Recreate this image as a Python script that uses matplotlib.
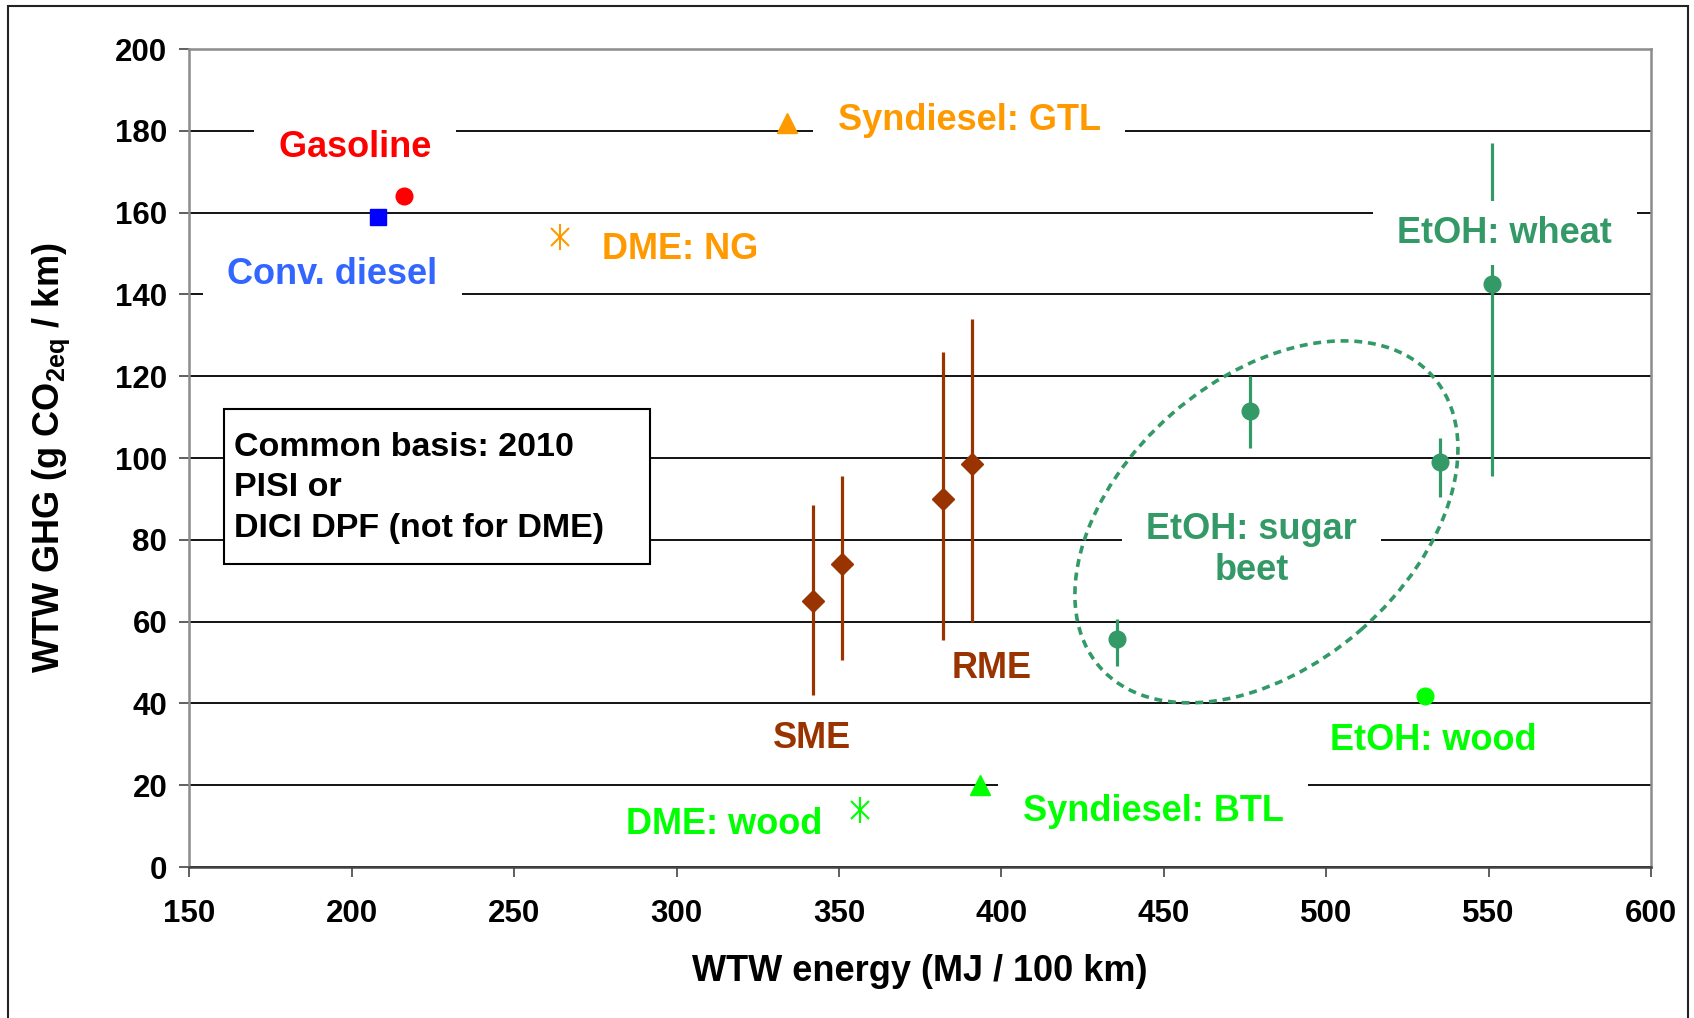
import matplotlib.pyplot as plt
from matplotlib.patches import Ellipse, Rectangle
from matplotlib.transforms import ScaledTranslation

plt.rcParams['font.family'] = ['Liberation Sans', 'DejaVu Sans']
plt.rcParams['font.weight'] = 'bold'
plt.rcParams['axes.labelweight'] = 'bold'
plt.rcParams['mathtext.fontset'] = 'custom'
plt.rcParams['mathtext.rm'] = 'Liberation Sans:bold'
plt.rcParams['mathtext.bf'] = 'Liberation Sans:bold'

# single points (energy MJ/100km, GHG g/km)
gasoline = (216, 164)
conv_diesel = (208, 159)
dme_ng = (264, 154)
gtl = (334, 182)
etoh_wood = (530.5, 41.7)
btl = (393.5, 20)
dme_wood = (356.5, 14)

# points with ranges
sme_x = [342, 351]
sme_y = [65, 74]
sme_lo = [42, 50.6]
sme_hi = [88.5, 95.7]

rme_x = [382, 391]
rme_y = [90, 98.5]
rme_lo = [55.5, 60]
rme_hi = [126, 134]

beet_x = [435.5, 476.5, 535]
beet_y = [55.7, 111.5, 99]
beet_lo = [49.2, 102.4, 90.5]
beet_hi = [60.6, 120, 104.9]

wheat_x = [551]
wheat_y = [142.5]
wheat_lo = [95.7]
wheat_hi = [177]

brown = '#993300'
sea = '#339966'
lime = '#00FF00'
orange = '#FF9900'

fig = plt.figure(figsize=(16.94, 10.18), dpi=100)
ax = fig.add_axes([0.1118, 0.1483, 0.8628, 0.8035])

ax.set_xlim(150, 600)
ax.set_ylim(0, 200)
ax.set_xticks(range(150, 601, 50))
ax.set_yticks(range(0, 201, 20))
ax.grid(axis='y', color='black', linewidth=1.3, zorder=0)
ax.set_axisbelow(True)
for s in ['top', 'right', 'left']:
    ax.spines[s].set_color('#8c8c8c')
    ax.spines[s].set_linewidth(1.8)
ax.spines['bottom'].set_color('#444444')
ax.spines['bottom'].set_linewidth(1.8)
ax.tick_params(axis='both', direction='out', length=7, width=1.2, color='#444444', labelsize=22.5)
ax.tick_params(axis='x', pad=16)
ax.tick_params(axis='y', pad=9)

ax.set_xlabel('WTW energy (MJ / 100 km)', fontsize=26, fontweight='bold', labelpad=18)
ax.set_ylabel(r'WTW GHG (g CO$_\mathregular{2eq}$ / km)', fontsize=26, fontweight='bold', labelpad=31)


def bars(x, y, lo, hi, color, marker, ms):
    yerr = [[b - a for a, b in zip(lo, y)], [b - a for a, b in zip(y, hi)]]
    ax.errorbar(x, y, yerr=yerr, fmt='none', ecolor=color, elinewidth=2.3, capsize=0, zorder=2)
    ax.plot(x, y, linestyle='none', marker=marker, color=color, markersize=ms, zorder=5)


bars(sme_x, sme_y, sme_lo, sme_hi, brown, 'D', 11)
bars(rme_x, rme_y, rme_lo, rme_hi, brown, 'D', 11)
bars(beet_x, beet_y, beet_lo, beet_hi, sea, 'o', 12)
bars(wheat_x, wheat_y, wheat_lo, wheat_hi, sea, 'o', 12)

ax.plot(*gasoline, 'o', color='#FF0000', markersize=12, zorder=5)
ax.plot(*conv_diesel, 's', color='#0000FF', markersize=12, zorder=5)
ax.plot(*gtl, '^', color=orange, markersize=15, zorder=5)
ax.plot(*etoh_wood, 'o', color=lime, markersize=12, zorder=5)
ax.plot(*btl, '^', color=lime, markersize=15, zorder=5)
for pt, c in [(dme_ng, orange), (dme_wood, lime)]:
    ax.plot(*pt, 'x', color=c, markersize=13, markeredgewidth=1.5, zorder=5)
    ax.plot(*pt, '|', color=c, markersize=19, markeredgewidth=1.5, zorder=5)

box = dict(boxstyle='square,pad=0.4', facecolor='white', edgecolor='none')
labels = [
    (201, 176, ' Gasoline ', '#FF0000', True),
    (194, 145, ' Conv. diesel ', '#3366FF', True),
    (390, 182.6, ' Syndiesel: GTL ', orange, True),
    (301, 151, 'DME: NG', orange, False),
    (555, 155, ' EtOH: wheat ', sea, True),
    (477, 77.5, ' EtOH: sugar \nbeet', sea, True),
    (397, 48.6, 'RME', brown, False),
    (341.6, 31.4, 'SME', brown, False),
    (533, 30.9, 'EtOH: wood', lime, False),
    (446.7, 13.5, ' Syndiesel: BTL ', lime, True),
    (314.6, 10.3, 'DME: wood', lime, False),
]
for x, y, t, c, bg in labels:
    ax.text(x, y, t, color=c, fontsize=26, ha='center', va='center',
            multialignment='center', linespacing=1.25,
            bbox=box if bg else None, zorder=3)

# note box
ax.add_patch(Rectangle((160.6, 74), 131.1, 38, facecolor='white', edgecolor='black',
                       linewidth=1.5, zorder=3))
ax.text(163.8, 92.7, 'Common basis: 2010\nPISI or\nDICI DPF (not for DME)',
        fontsize=24.5, ha='left', va='center', linespacing=1.38, zorder=4)

# dashed ellipse around sugar beet points (size in inches)
tr = fig.dpi_scale_trans + ScaledTranslation(481.6, 84.4, ax.transData)
ax.add_patch(Ellipse((0, 0), 4.42, 2.87, angle=41, transform=tr, fill=False,
                     edgecolor=sea, linewidth=2.6, linestyle=(0, (2.2, 1.6)), zorder=3))

fig.patches.append(Rectangle((0.0047, -0.01), 0.9918, 1.0041, transform=fig.transFigure,
                             fill=False, edgecolor='#222222', linewidth=1.5))

fig.savefig('out.png', dpi=100)
